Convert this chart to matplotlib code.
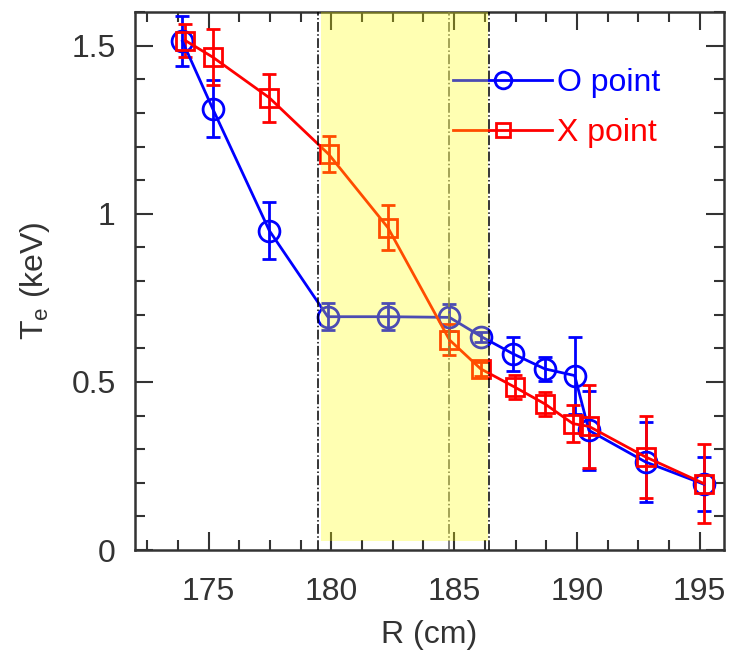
import matplotlib
matplotlib.use("Agg")
import matplotlib.pyplot as plt
from matplotlib.ticker import MultipleLocator

plt.rcParams['font.family'] = ['Liberation Sans', 'DejaVu Sans']

# O point (blue circles)
R_o = [173.93, 175.16, 177.47, 179.85, 182.30, 184.81, 186.10, 187.39, 188.69, 189.91, 190.49, 192.80, 195.17]
Te_o = [1.513, 1.313, 0.950, 0.694, 0.694, 0.692, 0.635, 0.584, 0.539, 0.519, 0.356, 0.262, 0.196]
err_o = [0.075, 0.086, 0.084, 0.040, 0.040, 0.040, 0.015, 0.050, 0.036, 0.115, 0.117, 0.120, 0.080]

# X point (red squares)
R_x = [174.05, 175.16, 177.47, 179.89, 182.30, 184.81, 186.08, 187.46, 188.69, 189.84, 190.49, 192.80, 195.17]
Te_x = [1.515, 1.466, 1.345, 1.177, 0.959, 0.625, 0.539, 0.485, 0.435, 0.376, 0.368, 0.277, 0.198]
err_x = [0.050, 0.084, 0.072, 0.054, 0.068, 0.046, 0.020, 0.035, 0.035, 0.056, 0.123, 0.122, 0.118]

# shaded region and vertical markers
span = (179.58, 186.36)
vlines_black = [179.44, 186.44]
vline_mid = 184.81

xticks = [175, 180, 185, 190, 195]
yticks = [0, 0.5, 1, 1.5]
ytick_labels = ['0', '0.5', '1', '1.5']

txt = '#333333'

fig = plt.figure(figsize=(7.3, 6.66), dpi=100)
ax = fig.add_axes([0.185, 0.174, 0.807, 0.808])

lw = 2.0
eb_o = ax.errorbar(R_o, Te_o, yerr=err_o, color='#0000FF', marker='o', ms=15, mfc='none',
                   mew=lw, lw=lw, capsize=5, capthick=lw, elinewidth=lw, zorder=3)
eb_x = ax.errorbar(R_x, Te_x, yerr=err_x, color='#FF0000', marker='s', ms=13, mfc='none',
                   mew=lw, lw=lw, capsize=5, capthick=lw, elinewidth=lw, zorder=3)

for xv in vlines_black:
    ax.axvline(xv, color='black', ls='-.', lw=1.1, zorder=4)
ax.axvline(vline_mid, color='0.35', ls='-.', lw=1.1, zorder=4)

ax.axvspan(span[0], span[1], ymin=0.017, ymax=1, color='yellow', alpha=0.3, lw=0, zorder=10)

ax.set_xlim(172, 196)
ax.set_ylim(0, 1.6)
ax.set_xticks(xticks)
ax.set_yticks(yticks)
ax.set_yticklabels(ytick_labels)
ax.xaxis.set_minor_locator(MultipleLocator(1.25))
ax.yaxis.set_minor_locator(MultipleLocator(0.1))

ax.tick_params(which='both', direction='in', top=True, right=True, width=1.5, color=txt)
ax.tick_params(which='major', length=13, labelsize=23, labelcolor=txt)
ax.tick_params(which='minor', length=7)
ax.tick_params(axis='x', which='major', pad=19)
ax.tick_params(axis='y', which='major', pad=14)

for s in ax.spines.values():
    s.set_linewidth(1.8)
    s.set_color(txt)

ax.set_xlabel('R (cm)', fontsize=23, color=txt, labelpad=10)
ax.set_ylabel(r'T$_\mathregular{e}$ (keV)', fontsize=23, color=txt, labelpad=14)

leg = ax.legend([eb_o.lines[0], eb_x.lines[0]], ['O point', 'X point'],
                loc='upper left', bbox_to_anchor=(0.54, 0.895), frameon=False, fontsize=23,
                handlelength=3.1, handletextpad=0.15, borderaxespad=0, borderpad=0,
                labelspacing=0.62, numpoints=1, markerscale=0.8)
for t, c in zip(leg.get_texts(), ['#0000FF', '#FF0000']):
    t.set_color(c)
leg.set_zorder(5)

fig.savefig('out.png', dpi=100)
